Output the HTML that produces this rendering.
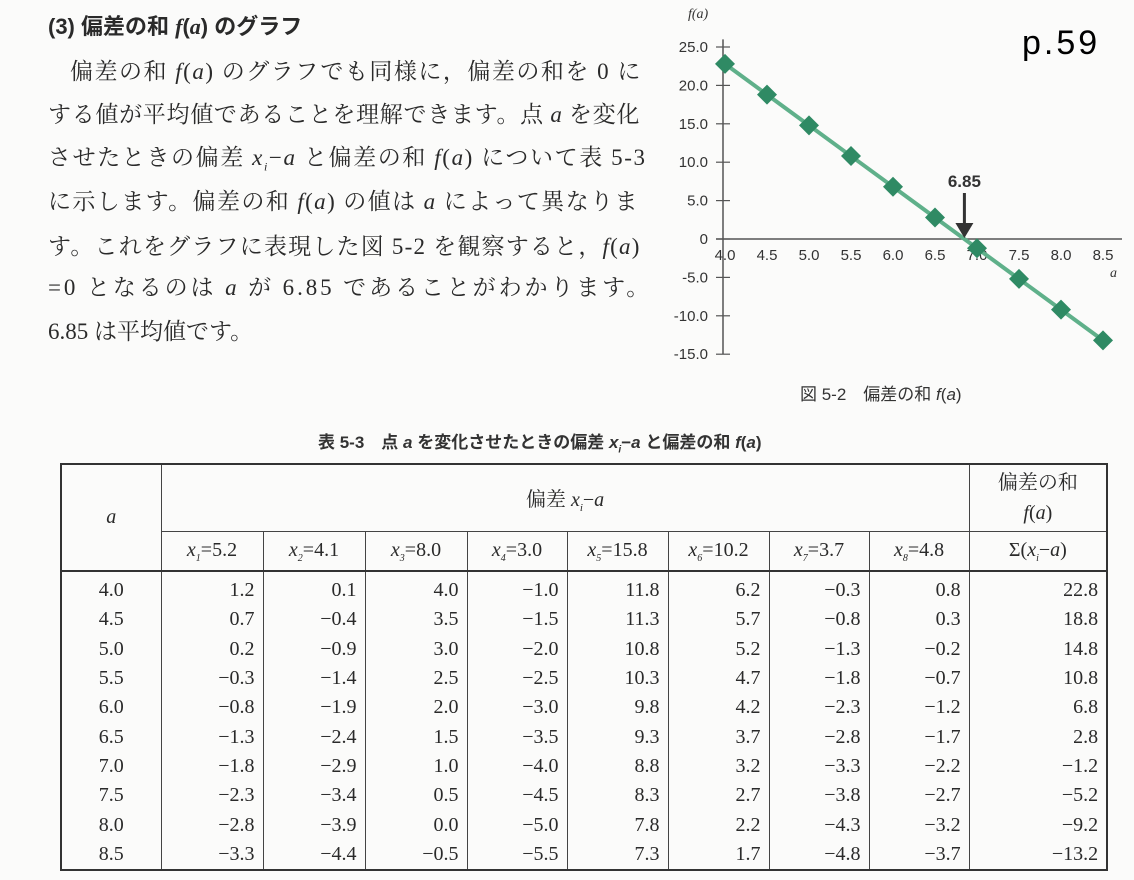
<!DOCTYPE html>
<html><head><meta charset="utf-8">
<style>
body{margin:0;width:1134px;height:880px;background:#fbfbfa;position:relative;overflow:hidden;font-family:"Liberation Serif","Noto Serif CJK SC",serif;color:#2a2a2a}
.t{position:absolute;left:48px;font-size:23px;white-space:nowrap;line-height:30px}
i{font-style:italic}
#tbl{position:absolute;left:60px;top:463px;border-collapse:collapse;font-size:20px;table-layout:fixed}
#tbl td{border:1px solid #444;padding:0 8px;text-align:right;height:38px}
#tbl td.h{text-align:center}
#tbl tr.d td{border-top:none;border-bottom:none;height:29.3px;line-height:29px}
</style></head><body>
<div class="t" style="top:12px;font-family:'Liberation Sans','Noto Sans CJK JP',sans-serif;font-weight:bold;font-size:22px">(3) 偏差の和 <i style="font-family:'Liberation Serif',serif">f</i>(<i style="font-family:'Liberation Serif',serif">a</i>) のグラフ</div>
<div class="t" style="top:57px;left:70px;letter-spacing:1.5px">偏差の和 <i>f</i>(<i>a</i>) のグラフでも同様に，偏差の和を 0 に</div>
<div class="t" style="top:100px;letter-spacing:0.7px">する値が平均値であることを理解できます。点 <i>a</i> を変化</div>
<div class="t" style="top:143px;letter-spacing:1.6px">させたときの偏差 <i>x<sub style="font-size:12px">i</sub></i>−<i>a</i> と偏差の和 <i>f</i>(<i>a</i>) について表 5-3</div>
<div class="t" style="top:187px;letter-spacing:1.4px">に示します。偏差の和 <i>f</i>(<i>a</i>) の値は <i>a</i> によって異なりま</div>
<div class="t" style="top:232px;letter-spacing:1.2px">す。これをグラフに表現した図 5-2 を観察すると，<i>f</i>(<i>a</i>)</div>
<div class="t" style="top:273px;letter-spacing:2.9px">=0 となるのは <i>a</i> が 6.85 であることがわかります。</div>
<div class="t" style="top:317px">6.85 は平均値です。</div>
<div style="position:absolute;left:1022px;top:24px;font-family:'Liberation Sans',sans-serif;font-size:34px;letter-spacing:3px;color:#000">p.59</div>

<svg id="chart" width="1134" height="420" style="position:absolute;left:0;top:0"></svg>
<div style="position:absolute;left:800px;top:380px;font-family:'Liberation Sans','Noto Sans CJK JP',sans-serif;font-size:17px;color:#333">図 5-2　偏差の和 <i>f</i>(<i>a</i>)</div>
<div style="position:absolute;left:318px;top:428px;font-family:'Liberation Sans','Noto Sans CJK JP',sans-serif;font-weight:bold;font-size:17px;color:#333">表 5-3　点 <i>a</i> を変化させたときの偏差 <i>x<sub style="font-size:10px">i</sub></i>−<i>a</i> と偏差の和 <i>f</i>(<i>a</i>)</div>

<table id="tbl" style="width:1046px;border:2px solid #333">
<colgroup><col style="width:100px"><col style="width:102px"><col style="width:102px"><col style="width:102px"><col style="width:100px"><col style="width:101px"><col style="width:101px"><col style="width:100px"><col style="width:100px"><col style="width:138px"></colgroup>
<tr><td class="h" rowspan="2" style="border-bottom:2px solid #333"><i>a</i></td><td class="h" colspan="8" style="height:66px">偏差 <i>x<sub style="font-size:11px">i</sub></i>−<i>a</i></td><td class="h" rowspan="1" style="line-height:30px">偏差の和<br><i>f</i>(<i>a</i>)</td></tr>
<tr id="sub"></tr>
</table>

<script>
const aVals=["4.0","4.5","5.0","5.5","6.0","6.5","7.0","7.5","8.0","8.5"];
const xLabels=["5.2","4.1","8.0","3.0","15.8","10.2","3.7","4.8"];
const fVals=[22.8,18.8,14.8,10.8,6.8,2.8,-1.2,-5.2,-9.2,-13.2];
const yTicks=[25,20,15,10,5,0,-5,-10,-15];
const xTicks=[4.0,4.5,5.0,5.5,6.0,6.5,7.0,7.5,8.0,8.5];
const meanVal=6.85;

const NS="http://www.w3.org/2000/svg";
const svg=document.getElementById('chart');
const X=v=>725+(v-4)*84;
const Y=v=>239-v*7.68;
function mk(t,at){const e=document.createElementNS(NS,t);for(const k in at)e.setAttribute(k,at[k]);svg.appendChild(e);return e;}
let e;
e=mk('line',{x1:723,y1:Y(26),x2:723,y2:Y(-15),stroke:'#555','stroke-width':1.5});


e=mk('line',{x1:716,y1:Y(0),x2:1122,y2:Y(0),stroke:'#555','stroke-width':1.5});


yTicks.forEach(v=>{
  mk('line',{x1:716,y1:Y(v),x2:730,y2:Y(v),stroke:'#555','stroke-width':1.2});
  e=mk('text',{x:708,y:Y(v)+5,'text-anchor':'end','font-size':15,fill:'#333','font-family':'Liberation Sans, sans-serif'});
  e.textContent=v===0?'0':v.toFixed(1);
  
  
});
xTicks.forEach(v=>{
  e=mk('text',{x:X(v),y:Y(0)+21,'text-anchor':'middle','font-size':15,fill:'#333','font-family':'Liberation Sans, sans-serif'});
  e.textContent=v.toFixed(1);
  
  
});
e=mk('text',{x:688,y:18,'font-size':14,'font-style':'italic',fill:'#333','font-family':'Liberation Serif, serif'});e.textContent='f(a)';


e=mk('text',{x:1110,y:277,'font-size':14,'font-style':'italic',fill:'#333','font-family':'Liberation Serif, serif'});e.textContent='a';


e=mk('polyline',{points:fVals.map((v,i)=>X(+aVals[i])+','+Y(v)).join(' '),fill:'none',stroke:'#5fb08a','stroke-width':4});


fVals.forEach((v,i)=>{
  const cx=X(+aVals[i]),cy=Y(v);
  e=mk('polygon',{points:`${cx},${cy-10} ${cx+10},${cy} ${cx},${cy+10} ${cx-10},${cy}`,fill:'#2f8a64'});
  
  
});
const mx=X(meanVal);
e=mk('line',{x1:mx,y1:Y(0)-46,x2:mx,y2:Y(0)-14,stroke:'#333','stroke-width':3});


mk('polygon',{points:`${mx-9},${Y(0)-16} ${mx+9},${Y(0)-16} ${mx},${Y(0)-1}`,fill:'#333'});
e=mk('text',{x:mx,y:Y(0)-52,'text-anchor':'middle','font-size':17,'font-weight':'bold',fill:'#333','font-family':'Liberation Sans, sans-serif'});e.textContent=meanVal.toFixed(2);



const sub=document.getElementById('sub');
const sn=["1","2","3","4","5","6","7","8"];
xLabels.forEach((l,i)=>{const td=document.createElement('td');td.className='h';td.style.borderBottom='2px solid #333';td.innerHTML=`<i>x<sub style="font-size:10px">${sn[i]}</sub></i>=${l}`;


sub.appendChild(td);});
const sm=document.createElement('td');sm.className='h';sm.style.borderBottom='2px solid #333';sm.innerHTML='Σ(<i>x<sub style="font-size:10px">i</sub></i>−<i>a</i>)';


sub.appendChild(sm);
const tbl=document.getElementById('tbl');
const fmt=v=>(v<0?'−':'')+Math.abs(v).toFixed(1);
aVals.forEach((a,r)=>{
  const tr=document.createElement('tr');tr.className='d';
  
  
  let h=`<td class="h">${a}</td>`;
  xLabels.forEach(x=>{h+=`<td>${fmt(+x-(+a))}</td>`;});
  h+=`<td>${fmt(fVals[r])}</td>`;
  tr.innerHTML=h;
  if(r===0)[...tr.children].forEach(c=>c.style.paddingTop='4px');
  tbl.appendChild(tr);
});
</script>
</body></html>
